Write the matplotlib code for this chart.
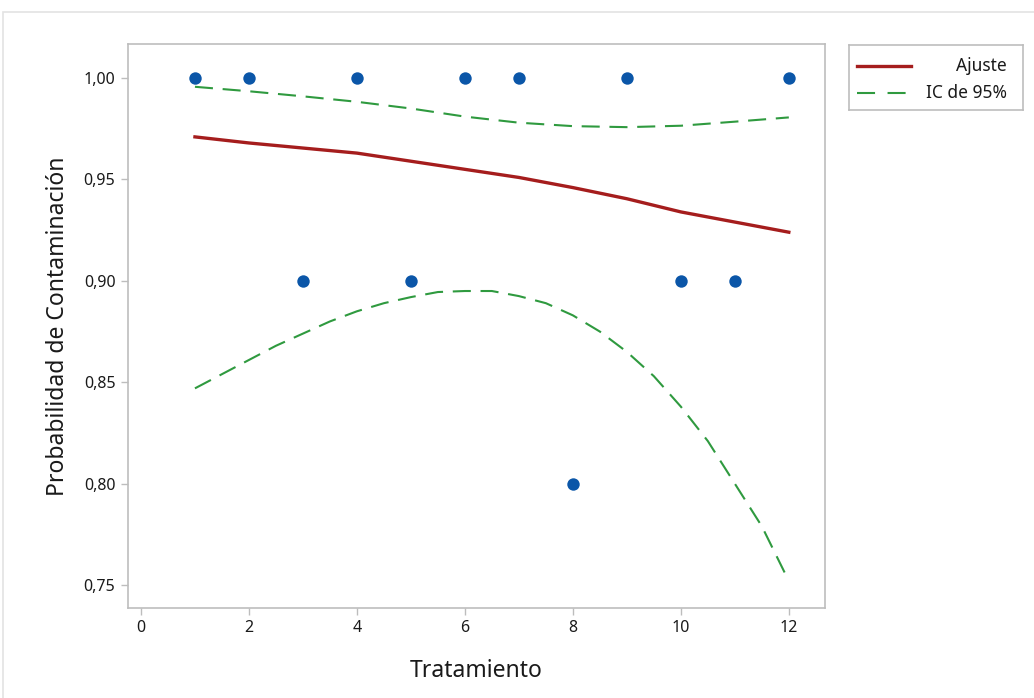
import numpy as np
import matplotlib
matplotlib.use("Agg")
import matplotlib.pyplot as plt
import matplotlib.ticker as ticker
from matplotlib.patches import Rectangle
from matplotlib.lines import Line2D

plt.rcParams["font.family"] = ["Noto Sans", "DejaVu Sans"]
plt.rcParams["lines.scale_dashes"] = False

# ── datos ─────────────────────────────────────────────────────────────────────
tratamiento = [1, 2, 3, 4, 5, 6, 7, 8, 9, 10, 11, 12]
probabilidad = [1.00, 1.00, 0.90, 1.00, 0.90, 1.00, 1.00, 0.80, 1.00, 0.90, 0.90, 1.00]

ajuste_x = [1, 2, 3, 4, 5, 6, 7, 8, 9, 10, 11, 12]
ajuste_y = [0.971, 0.968, 0.9655, 0.963, 0.959, 0.955, 0.951, 0.946, 0.9405, 0.934, 0.929, 0.924]

ic_sup_x = [1, 2, 3, 4, 5, 6, 7, 8, 9, 10, 11, 12]
ic_sup_y = [0.9957, 0.9935, 0.991, 0.9883, 0.985, 0.981, 0.978, 0.9763, 0.9758, 0.9765, 0.9785, 0.9806]

ic_inf_x = [1, 1.5, 2, 2.5, 3, 3.5, 4, 4.5, 5, 5.5, 6, 6.5, 7, 7.5, 8, 8.5,
            9, 9.5, 10, 10.5, 11, 11.5, 12]
ic_inf_y = [0.847, 0.854, 0.861, 0.868, 0.874, 0.880, 0.885, 0.889, 0.892, 0.8945,
            0.895, 0.895, 0.8925, 0.889, 0.883, 0.875, 0.865, 0.853, 0.838, 0.821,
            0.800, 0.779, 0.752]

ROJO = "#a51d1d"
VERDE = "#2f9a3f"
AZUL = "#0b56a8"
GRIS = "#bdbdbd"
TEXTO = "#1a1a1a"

W, H = 1034, 698
fig = plt.figure(figsize=(W / 100, H / 100), dpi=100)

# marco exterior
fig.patches.append(Rectangle((3 / W, -0.05), 1.1, 1.05 - 12 / H,
                             transform=fig.transFigure, fill=False,
                             edgecolor="#e3e3e3", linewidth=1.2))

ax = fig.add_axes([128 / W, 1 - 608 / H, (825 - 128) / W, (608 - 44) / H])

dash = (0, (13, 7))
ax.plot(ajuste_x, ajuste_y, color=ROJO, linewidth=2.4, zorder=3)
ax.plot(ic_sup_x, ic_sup_y, color=VERDE, linewidth=1.5, linestyle=dash, zorder=2)
ax.plot(ic_inf_x, ic_inf_y, color=VERDE, linewidth=1.5, linestyle=dash, zorder=2)
ax.scatter(tratamiento, probabilidad, s=80, color=AZUL, zorder=4, linewidths=0)

ax.set_xlim(-0.24, 12.67)
ax.set_ylim(0.7387, 1.0168)
ax.set_xticks(range(0, 13, 2))
ax.set_yticks([0.75, 0.80, 0.85, 0.90, 0.95, 1.00])
ax.yaxis.set_major_formatter(ticker.FuncFormatter(lambda v, _: f"{v:.2f}".replace(".", ",")))

for s in ax.spines.values():
    s.set_color(GRIS)
    s.set_linewidth(1.2)
ax.tick_params(length=5, width=1, color=GRIS, labelsize=11.5, labelcolor=TEXTO, pad=4)

ax.set_xlabel("Tratamiento", fontsize=16.5, color=TEXTO, labelpad=16, fontweight=500)
ax.set_ylabel("Probabilidad de Contaminación", fontsize=16.5, color=TEXTO, labelpad=10,
              fontweight=500)

# leyenda
lax = fig.add_axes([849 / W, 1 - 110 / H, (1023 - 849) / W, 65 / H])
lax.set_xlim(0, 174)
lax.set_ylim(0, 65)
lax.set_xticks([])
lax.set_yticks([])
for s in lax.spines.values():
    s.set_color(GRIS)
    s.set_linewidth(1.2)
lax.add_line(Line2D([8, 62], [44, 44], color=ROJO, linewidth=2.4))
lax.add_line(Line2D([8, 62], [17, 17], color=VERDE, linewidth=1.5, linestyle=(0, (13, 9))))
lax.text(158, 44, "Ajuste", ha="right", va="center", fontsize=12.5, color=TEXTO)
lax.text(158, 17, "IC de 95%", ha="right", va="center", fontsize=12.5, color=TEXTO)

fig.savefig("out.png", dpi=100)
